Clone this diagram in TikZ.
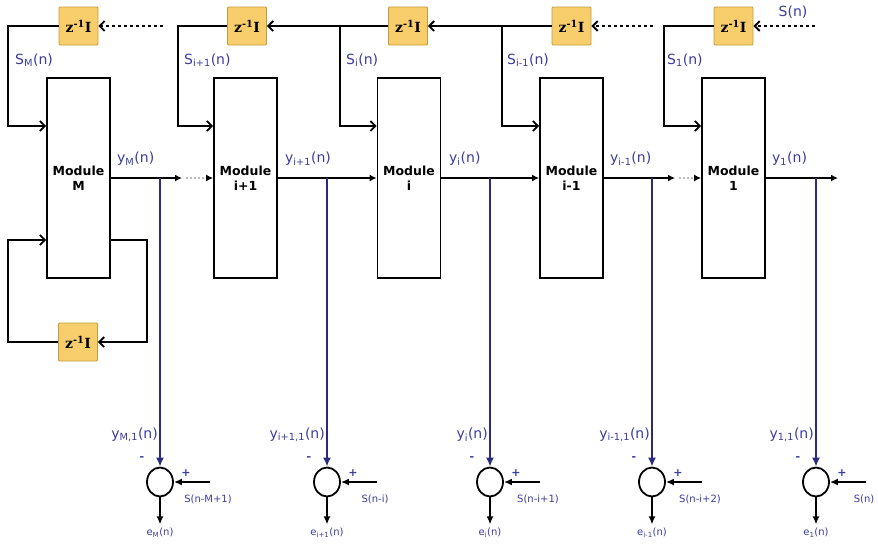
\documentclass[tikz,border=0pt]{standalone}
\usepackage{fontspec}
\setmainfont{DejaVu Sans}
\newfontfamily\zfont{DejaVu Serif}
\usetikzlibrary{arrows.meta,shapes.geometric,calc}
\definecolor{zfill}{HTML}{F8CE6C}
\definecolor{zdraw}{HTML}{C49A3C}
\definecolor{lblue}{HTML}{3C3CA0}
\definecolor{tapblue}{HTML}{2A2A80}
\begin{document}
\begin{tikzpicture}[x=1pt,y=-1pt,
  mod/.style={draw, line width=1.8pt, minimum width=63pt, minimum height=200pt, inner sep=0pt,
    font=\fontsize{12.5}{14.5}\selectfont\bfseries, align=center},
  zbox/.style={draw=zdraw, fill=zfill, line width=0.9pt, rounded corners=1pt, minimum width=39pt,
    minimum height=38pt, inner sep=0pt, font=\zfont\fontsize{14}{16}\selectfont\bfseries},
  sum/.style={draw, ellipse, line width=1.8pt, minimum width=26pt, minimum height=29pt, inner sep=0pt},
  wire/.style={line width=1.8pt, -{Straight Barb[length=5pt,width=10pt]}},
  owire/.style={line width=1.8pt, -{Latex[length=7pt,width=7pt]}},
  dotw/.style={line width=1.8pt, dash pattern=on 3pt off 3pt, -{Straight Barb[length=5pt,width=10pt]}},
  graydot/.style={draw=gray!50, line width=1.6pt, dash pattern=on 2pt off 2pt, -{Latex[length=7pt,width=7pt,color=black]}},
  barrow/.style={line width=1.8pt, -{Latex[length=8pt,width=7pt]}},
  tap/.style={draw=tapblue, line width=2.3pt, -{Latex[length=9pt,width=8pt]}},
  lab/.style={text=lblue, font=\fontsize{14}{16}\selectfont, inner sep=0pt},
  slab/.style={text=lblue, font=\fontsize{10}{11}\selectfont, inner sep=0pt},
  sign/.style={text=lblue, font=\fontsize{11}{12}\selectfont\bfseries, inner sep=0pt}
]
\useasboundingbox (0,0) rectangle (878,549);

% modules
\node[mod] (mM)   at (78.5,178)  {Module\\M};
\node[mod] (mip1) at (245.5,178) {Module\\i+1};
\node[mod] (mi)   at (409,178)   {Module\\i};
\node[mod] (mim1) at (571.5,178) {Module\\i-1};
\node[mod] (m1)   at (733.5,178) {Module\\1};

% delay boxes
\coordinate (top) at (0,26);
\coordinate (inY) at (0,126);
\node[zbox] (z1) at (mM |- top)   {z\textsuperscript{-1}I};
\node[zbox] (z2) at (247,26)      {z\textsuperscript{-1}I};
\node[zbox] (z3) at (408,26)      {z\textsuperscript{-1}I};
\node[zbox] (z4) at (571.5,26)    {z\textsuperscript{-1}I};
\node[zbox] (z5) at (733.5,26)    {z\textsuperscript{-1}I};
\node[zbox] (z6) at (78,342)      {z\textsuperscript{-1}I};

% feedback at top
\coordinate (d1) at (163,26);
\coordinate (d4) at (653,26);
\coordinate (d5) at (815,26);
\draw[dotw] (d1) -- (z1.east);
\draw[wire] (z1.west) -- (8,26) |- (mM.west |- inY);
\draw[wire] (z2.west) -- (178,26) |- (mip1.west |- inY);
\draw[wire] (z3.west) -- (z2.east);
\draw[wire] (340,26) |- (mi.west |- inY);
\draw[wire] (z4.west) -- (z3.east);
\draw[wire] (502,26) |- (mim1.west |- inY);
\draw[dotw] (d4) -- (z4.east);
\draw[wire] (z5.west) -- (664,26) |- (m1.west |- inY);
\draw[dotw] (d5) -- (z5.east);
\node[lab] at (793,12) {S(n)};

% module M self loop
\coordinate (loY) at (0,240);
\draw[wire] (mM.east |- loY) -- (147,240) |- (z6.east);
\draw[wire] (z6.west) -- (8,342) |- (mM.west |- loY);

% state labels
\node[lab, anchor=west] at (15,60)  {S\textsubscript{M}(n)};
\node[lab, anchor=west] at (184,60) {S\textsubscript{i+1}(n)};
\node[lab, anchor=west] at (346,60) {S\textsubscript{i}(n)};
\node[lab, anchor=west] at (507,60) {S\textsubscript{i-1}(n)};
\node[lab, anchor=west] at (667,60) {S\textsubscript{1}(n)};

% outputs
\coordinate (o1) at (182,178);
\coordinate (o1b) at (186,178);
\coordinate (o4) at (675,178);
\coordinate (o4b) at (679,178);
\coordinate (oend) at (838,178);
\draw[owire] (mM.east) -- (o1);
\draw[graydot] (o1b) -- (mip1.west);
\draw[owire] (mip1.east) -- (mi.west);
\draw[owire] (mi.east) -- (mim1.west);
\draw[owire] (mim1.east) -- (o4);
\draw[graydot] (o4b) -- (m1.west);
\draw[owire] (m1.east) -- (oend);

\node[lab, anchor=west] at (117,159) {y\textsubscript{M}(n)};
\node[lab, anchor=west] at (285,159) {y\textsubscript{i+1}(n)};
\node[lab, anchor=west] at (449,159) {y\textsubscript{i}(n)};
\node[lab, anchor=west] at (610,159) {y\textsubscript{i-1}(n)};
\node[lab, anchor=west] at (772,159) {y\textsubscript{1}(n)};

% summing junctions
\foreach \n/\x/\ya/\sa/\ea in {s1/160/{M,1}/{S(n-M+1)}/{M},
                               s2/327/{i+1,1}/{S(n-i)}/{i+1},
                               s3/490/{i}/{S(n-i+1)}/{i},
                               s4/652/{i-1,1}/{S(n-i+2)}/{i-1},
                               s5/816/{1,1}/{S(n)}/{1}}{
  \node[sum] (\n) at (\x,482) {};
  \draw[tap] (\n |- mM.east) -- (\n.north);
  \draw[barrow] ($(\n)+(50,0)$) -- (\n.east);
  \draw[barrow] (\n.south) -- ++(0,27);
  \node[lab, anchor=east] at ($(\n)+(-2,-47)$) {y\textsubscript{\ya}(n)};
  \node[sign] at ($(\n)+(-18,-23)$) {-};
  \node[sign] at ($(\n)+(26,-9)$) {+};
  \node[slab] at ($(\n)+(48,17)$) {\sa};
  \node[slab] at ($(\n)+(0,51)$) {e\textsubscript{\ea}(n)};
}
\end{tikzpicture}
\end{document}
